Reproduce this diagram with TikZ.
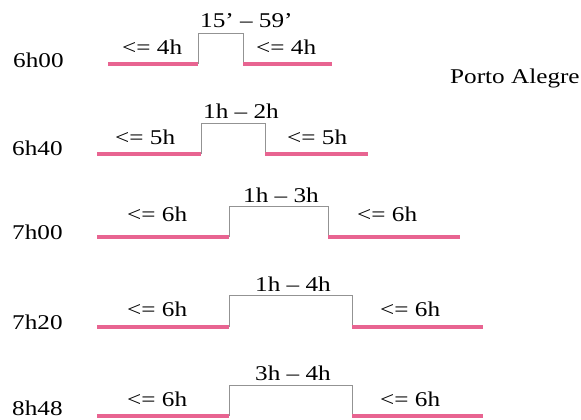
\documentclass[tikz,border=0pt]{standalone}
\usepackage{fontspec}
\setmainfont[FakeStretch=1.2]{Liberation Serif}
\usepackage{tikz}
\usetikzlibrary{positioning}

\definecolor{pinkline}{RGB}{232,100,145}

\begin{document}
\begin{tikzpicture}[x=1pt, y=-1pt,
    pulse/.style={draw=gray!85, line width=0.9pt},
    level/.style={draw=pinkline, line width=4pt},
    lbl/.style={anchor=base west, inner sep=0pt, font=\fontsize{21}{25}\selectfont}]
    \useasboundingbox (0,0) rectangle (581,420);
    % waveforms: name/level/top/start/rise/fall/end
    \foreach \n/\yb/\yt/\xa/\xb/\xc/\xd in {a/64/33/108/198/243/332, b/154/123/97/201/265/368, c/237/206/97/229/328/460, d/327/295/97/229/352/483, e/416/385/97/229/352/483} {
        \coordinate (\n0) at (\xa,\yb);
        \coordinate (\n1) at (\xb,\yb);
        \coordinate (\n2) at (\xc,\yb);
        \coordinate (\n3) at (\xd,\yb);
        \draw[pulse] (\n1) -- (\xb,\yt) -- (\xc,\yt) -- (\n2);
        \draw[level] (\n0) -- (\n1);
        \draw[level] (\n2) -- (\n3);
    }
    % labels: name/time/x/y/side/xl/xr/ys/top/xt/yt
    \foreach \n/\t/\xh/\yh/\s/\xl/\xr/\ys/\p/\xt/\yp in {a/6h00/13/68/4h/122/256/55/15’ – 59’/200/28, b/6h40/12/155/5h/115/287/144/1h – 2h/203/118, c/7h00/12/239/6h/127/357/221/1h – 3h/243/202, d/7h20/12/329/6h/127/380/316/1h – 4h/255/291, e/8h48/12/415/6h/127/380/406/3h – 4h/255/380} {
        \node[lbl] (\n-time) at (\xh,\yh) {\t};
        \node[lbl] (\n-left) at (\xl,\ys) {<= \s};
        \node[lbl] (\n-right) at (\xr,\ys) {<= \s};
        \node[lbl] (\n-top) at (\xt,\yp) {\p};
    }
    \node[lbl] (city) at (450,83) {Porto Alegre};
\end{tikzpicture}
\end{document}
